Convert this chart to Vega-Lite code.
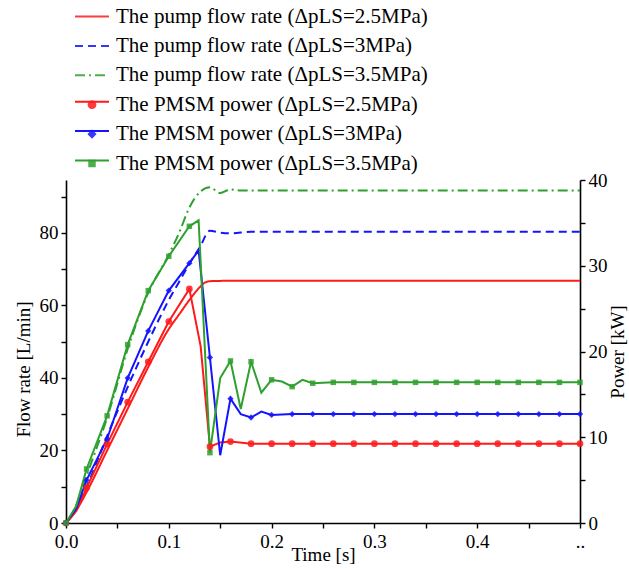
{
  "$schema": "https://vega.github.io/schema/vega-lite/v6.json",
  "width": 514,
  "height": 343,
  "autosize": {"type": "none"},
  "padding": {"left": 66, "top": 180, "right": 49, "bottom": 46},
  "config": {
    "view": {"stroke": null},
    "font": "'Liberation Serif', 'DejaVu Serif', serif",
    "axis": {"labelFont": "'Liberation Serif', 'DejaVu Serif', serif", "titleFont": "'Liberation Serif', 'DejaVu Serif', serif", "labelFontSize": 19, "titleFontSize": 19, "titleFontWeight": "normal", "labelColor": "#000", "titleColor": "#000", "domainColor": "#000", "tickColor": "#000", "domainWidth": 1.6, "tickWidth": 1.4, "tickSize": 5, "grid": false},
    "legend": {"orient": "none", "legendX": 8, "legendY": -174, "direction": "vertical", "labelFont": "'Liberation Serif', 'DejaVu Serif', serif", "labelFontSize": 21, "labelColor": "#000", "labelLimit": 600, "labelOffset": 6, "clipHeight": 21, "rowPadding": 7.4, "symbolStrokeWidth": 2}
  },
  "datasets": {
    "flow": [
      {"series": "The pump flow rate (ΔpLS=2.5MPa)", "t": 0, "q": 0},
      {"series": "The pump flow rate (ΔpLS=2.5MPa)", "t": 0.01, "q": 3.5},
      {"series": "The pump flow rate (ΔpLS=2.5MPa)", "t": 0.02, "q": 8.5},
      {"series": "The pump flow rate (ΔpLS=2.5MPa)", "t": 0.04, "q": 20},
      {"series": "The pump flow rate (ΔpLS=2.5MPa)", "t": 0.06, "q": 31.5},
      {"series": "The pump flow rate (ΔpLS=2.5MPa)", "t": 0.08, "q": 43},
      {"series": "The pump flow rate (ΔpLS=2.5MPa)", "t": 0.10, "q": 53.5},
      {"series": "The pump flow rate (ΔpLS=2.5MPa)", "t": 0.11, "q": 57.5},
      {"series": "The pump flow rate (ΔpLS=2.5MPa)", "t": 0.12, "q": 61.5},
      {"series": "The pump flow rate (ΔpLS=2.5MPa)", "t": 0.13, "q": 65},
      {"series": "The pump flow rate (ΔpLS=2.5MPa)", "t": 0.135, "q": 66.3},
      {"series": "The pump flow rate (ΔpLS=2.5MPa)", "t": 0.14, "q": 66.7},
      {"series": "The pump flow rate (ΔpLS=2.5MPa)", "t": 0.16, "q": 66.8},
      {"series": "The pump flow rate (ΔpLS=2.5MPa)", "t": 0.5, "q": 66.8},
      {"series": "The pump flow rate (ΔpLS=3MPa)", "t": 0, "q": 0},
      {"series": "The pump flow rate (ΔpLS=3MPa)", "t": 0.01, "q": 4},
      {"series": "The pump flow rate (ΔpLS=3MPa)", "t": 0.02, "q": 10},
      {"series": "The pump flow rate (ΔpLS=3MPa)", "t": 0.04, "q": 24},
      {"series": "The pump flow rate (ΔpLS=3MPa)", "t": 0.06, "q": 37.5},
      {"series": "The pump flow rate (ΔpLS=3MPa)", "t": 0.08, "q": 50},
      {"series": "The pump flow rate (ΔpLS=3MPa)", "t": 0.10, "q": 61.5},
      {"series": "The pump flow rate (ΔpLS=3MPa)", "t": 0.11, "q": 66.5},
      {"series": "The pump flow rate (ΔpLS=3MPa)", "t": 0.12, "q": 71.5},
      {"series": "The pump flow rate (ΔpLS=3MPa)", "t": 0.13, "q": 76},
      {"series": "The pump flow rate (ΔpLS=3MPa)", "t": 0.14, "q": 80.6},
      {"series": "The pump flow rate (ΔpLS=3MPa)", "t": 0.15, "q": 80.1},
      {"series": "The pump flow rate (ΔpLS=3MPa)", "t": 0.16, "q": 79.9},
      {"series": "The pump flow rate (ΔpLS=3MPa)", "t": 0.18, "q": 80.3},
      {"series": "The pump flow rate (ΔpLS=3MPa)", "t": 0.5, "q": 80.3},
      {"series": "The pump flow rate (ΔpLS=3.5MPa)", "t": 0, "q": 0},
      {"series": "The pump flow rate (ΔpLS=3.5MPa)", "t": 0.01, "q": 5},
      {"series": "The pump flow rate (ΔpLS=3.5MPa)", "t": 0.02, "q": 13},
      {"series": "The pump flow rate (ΔpLS=3.5MPa)", "t": 0.04, "q": 29},
      {"series": "The pump flow rate (ΔpLS=3.5MPa)", "t": 0.06, "q": 48},
      {"series": "The pump flow rate (ΔpLS=3.5MPa)", "t": 0.08, "q": 63.5},
      {"series": "The pump flow rate (ΔpLS=3.5MPa)", "t": 0.10, "q": 74},
      {"series": "The pump flow rate (ΔpLS=3.5MPa)", "t": 0.11, "q": 80},
      {"series": "The pump flow rate (ΔpLS=3.5MPa)", "t": 0.12, "q": 87},
      {"series": "The pump flow rate (ΔpLS=3.5MPa)", "t": 0.13, "q": 91.2},
      {"series": "The pump flow rate (ΔpLS=3.5MPa)", "t": 0.14, "q": 92.6},
      {"series": "The pump flow rate (ΔpLS=3.5MPa)", "t": 0.15, "q": 91},
      {"series": "The pump flow rate (ΔpLS=3.5MPa)", "t": 0.16, "q": 92},
      {"series": "The pump flow rate (ΔpLS=3.5MPa)", "t": 0.17, "q": 91.7},
      {"series": "The pump flow rate (ΔpLS=3.5MPa)", "t": 0.5, "q": 91.7}
    ],
    "power": [
      {"series": "The PMSM power (ΔpLS=2.5MPa)", "t": 0, "p": 0, "mk": 1},
      {"series": "The PMSM power (ΔpLS=2.5MPa)", "t": 0.01, "p": 1.4, "mk": 0},
      {"series": "The PMSM power (ΔpLS=2.5MPa)", "t": 0.02, "p": 4.1, "mk": 1},
      {"series": "The PMSM power (ΔpLS=2.5MPa)", "t": 0.04, "p": 9.2, "mk": 1},
      {"series": "The PMSM power (ΔpLS=2.5MPa)", "t": 0.06, "p": 14.1, "mk": 1},
      {"series": "The PMSM power (ΔpLS=2.5MPa)", "t": 0.08, "p": 18.8, "mk": 1},
      {"series": "The PMSM power (ΔpLS=2.5MPa)", "t": 0.10, "p": 23.5, "mk": 1},
      {"series": "The PMSM power (ΔpLS=2.5MPa)", "t": 0.12, "p": 27.3, "mk": 1},
      {"series": "The PMSM power (ΔpLS=2.5MPa)", "t": 0.131, "p": 20.6, "mk": 0},
      {"series": "The PMSM power (ΔpLS=2.5MPa)", "t": 0.14, "p": 8.9, "mk": 1},
      {"series": "The PMSM power (ΔpLS=2.5MPa)", "t": 0.15, "p": 9.4, "mk": 0},
      {"series": "The PMSM power (ΔpLS=2.5MPa)", "t": 0.16, "p": 9.5, "mk": 1},
      {"series": "The PMSM power (ΔpLS=2.5MPa)", "t": 0.18, "p": 9.25, "mk": 1},
      {"series": "The PMSM power (ΔpLS=2.5MPa)", "t": 0.20, "p": 9.25, "mk": 1},
      {"series": "The PMSM power (ΔpLS=2.5MPa)", "t": 0.22, "p": 9.25, "mk": 1},
      {"series": "The PMSM power (ΔpLS=2.5MPa)", "t": 0.24, "p": 9.25, "mk": 1},
      {"series": "The PMSM power (ΔpLS=2.5MPa)", "t": 0.26, "p": 9.25, "mk": 1},
      {"series": "The PMSM power (ΔpLS=2.5MPa)", "t": 0.28, "p": 9.25, "mk": 1},
      {"series": "The PMSM power (ΔpLS=2.5MPa)", "t": 0.30, "p": 9.25, "mk": 1},
      {"series": "The PMSM power (ΔpLS=2.5MPa)", "t": 0.32, "p": 9.25, "mk": 1},
      {"series": "The PMSM power (ΔpLS=2.5MPa)", "t": 0.34, "p": 9.25, "mk": 1},
      {"series": "The PMSM power (ΔpLS=2.5MPa)", "t": 0.36, "p": 9.25, "mk": 1},
      {"series": "The PMSM power (ΔpLS=2.5MPa)", "t": 0.38, "p": 9.25, "mk": 1},
      {"series": "The PMSM power (ΔpLS=2.5MPa)", "t": 0.40, "p": 9.25, "mk": 1},
      {"series": "The PMSM power (ΔpLS=2.5MPa)", "t": 0.42, "p": 9.25, "mk": 1},
      {"series": "The PMSM power (ΔpLS=2.5MPa)", "t": 0.44, "p": 9.25, "mk": 1},
      {"series": "The PMSM power (ΔpLS=2.5MPa)", "t": 0.46, "p": 9.25, "mk": 1},
      {"series": "The PMSM power (ΔpLS=2.5MPa)", "t": 0.48, "p": 9.25, "mk": 1},
      {"series": "The PMSM power (ΔpLS=2.5MPa)", "t": 0.50, "p": 9.25, "mk": 1},
      {"series": "The PMSM power (ΔpLS=3MPa)", "t": 0, "p": 0, "mk": 1},
      {"series": "The PMSM power (ΔpLS=3MPa)", "t": 0.01, "p": 1.7, "mk": 0},
      {"series": "The PMSM power (ΔpLS=3MPa)", "t": 0.02, "p": 5.0, "mk": 1},
      {"series": "The PMSM power (ΔpLS=3MPa)", "t": 0.04, "p": 9.8, "mk": 1},
      {"series": "The PMSM power (ΔpLS=3MPa)", "t": 0.06, "p": 16.9, "mk": 1},
      {"series": "The PMSM power (ΔpLS=3MPa)", "t": 0.08, "p": 22.4, "mk": 1},
      {"series": "The PMSM power (ΔpLS=3MPa)", "t": 0.10, "p": 27.1, "mk": 1},
      {"series": "The PMSM power (ΔpLS=3MPa)", "t": 0.12, "p": 30.3, "mk": 1},
      {"series": "The PMSM power (ΔpLS=3MPa)", "t": 0.129, "p": 31.8, "mk": 0},
      {"series": "The PMSM power (ΔpLS=3MPa)", "t": 0.14, "p": 19.3, "mk": 1},
      {"series": "The PMSM power (ΔpLS=3MPa)", "t": 0.15, "p": 7.9, "mk": 0},
      {"series": "The PMSM power (ΔpLS=3MPa)", "t": 0.16, "p": 14.5, "mk": 1},
      {"series": "The PMSM power (ΔpLS=3MPa)", "t": 0.17, "p": 12.7, "mk": 0},
      {"series": "The PMSM power (ΔpLS=3MPa)", "t": 0.18, "p": 12.3, "mk": 1},
      {"series": "The PMSM power (ΔpLS=3MPa)", "t": 0.19, "p": 13.0, "mk": 0},
      {"series": "The PMSM power (ΔpLS=3MPa)", "t": 0.20, "p": 12.6, "mk": 1},
      {"series": "The PMSM power (ΔpLS=3MPa)", "t": 0.22, "p": 12.7, "mk": 1},
      {"series": "The PMSM power (ΔpLS=3MPa)", "t": 0.24, "p": 12.7, "mk": 1},
      {"series": "The PMSM power (ΔpLS=3MPa)", "t": 0.26, "p": 12.7, "mk": 1},
      {"series": "The PMSM power (ΔpLS=3MPa)", "t": 0.28, "p": 12.7, "mk": 1},
      {"series": "The PMSM power (ΔpLS=3MPa)", "t": 0.30, "p": 12.7, "mk": 1},
      {"series": "The PMSM power (ΔpLS=3MPa)", "t": 0.32, "p": 12.7, "mk": 1},
      {"series": "The PMSM power (ΔpLS=3MPa)", "t": 0.34, "p": 12.7, "mk": 1},
      {"series": "The PMSM power (ΔpLS=3MPa)", "t": 0.36, "p": 12.7, "mk": 1},
      {"series": "The PMSM power (ΔpLS=3MPa)", "t": 0.38, "p": 12.7, "mk": 1},
      {"series": "The PMSM power (ΔpLS=3MPa)", "t": 0.40, "p": 12.7, "mk": 1},
      {"series": "The PMSM power (ΔpLS=3MPa)", "t": 0.42, "p": 12.7, "mk": 1},
      {"series": "The PMSM power (ΔpLS=3MPa)", "t": 0.44, "p": 12.7, "mk": 1},
      {"series": "The PMSM power (ΔpLS=3MPa)", "t": 0.46, "p": 12.7, "mk": 1},
      {"series": "The PMSM power (ΔpLS=3MPa)", "t": 0.48, "p": 12.7, "mk": 1},
      {"series": "The PMSM power (ΔpLS=3MPa)", "t": 0.50, "p": 12.7, "mk": 1},
      {"series": "The PMSM power (ΔpLS=3.5MPa)", "t": 0, "p": 0, "mk": 1},
      {"series": "The PMSM power (ΔpLS=3.5MPa)", "t": 0.01, "p": 2.0, "mk": 0},
      {"series": "The PMSM power (ΔpLS=3.5MPa)", "t": 0.02, "p": 6.3, "mk": 1},
      {"series": "The PMSM power (ΔpLS=3.5MPa)", "t": 0.04, "p": 12.5, "mk": 1},
      {"series": "The PMSM power (ΔpLS=3.5MPa)", "t": 0.06, "p": 20.8, "mk": 1},
      {"series": "The PMSM power (ΔpLS=3.5MPa)", "t": 0.08, "p": 27.1, "mk": 1},
      {"series": "The PMSM power (ΔpLS=3.5MPa)", "t": 0.10, "p": 31.1, "mk": 1},
      {"series": "The PMSM power (ΔpLS=3.5MPa)", "t": 0.12, "p": 34.6, "mk": 1},
      {"series": "The PMSM power (ΔpLS=3.5MPa)", "t": 0.129, "p": 35.3, "mk": 0},
      {"series": "The PMSM power (ΔpLS=3.5MPa)", "t": 0.14, "p": 8.2, "mk": 1},
      {"series": "The PMSM power (ΔpLS=3.5MPa)", "t": 0.15, "p": 16.9, "mk": 0},
      {"series": "The PMSM power (ΔpLS=3.5MPa)", "t": 0.16, "p": 18.9, "mk": 1},
      {"series": "The PMSM power (ΔpLS=3.5MPa)", "t": 0.17, "p": 13.3, "mk": 0},
      {"series": "The PMSM power (ΔpLS=3.5MPa)", "t": 0.18, "p": 18.8, "mk": 1},
      {"series": "The PMSM power (ΔpLS=3.5MPa)", "t": 0.19, "p": 15.2, "mk": 0},
      {"series": "The PMSM power (ΔpLS=3.5MPa)", "t": 0.20, "p": 16.7, "mk": 1},
      {"series": "The PMSM power (ΔpLS=3.5MPa)", "t": 0.21, "p": 16.5, "mk": 0},
      {"series": "The PMSM power (ΔpLS=3.5MPa)", "t": 0.22, "p": 15.9, "mk": 1},
      {"series": "The PMSM power (ΔpLS=3.5MPa)", "t": 0.23, "p": 16.7, "mk": 0},
      {"series": "The PMSM power (ΔpLS=3.5MPa)", "t": 0.24, "p": 16.3, "mk": 1},
      {"series": "The PMSM power (ΔpLS=3.5MPa)", "t": 0.26, "p": 16.4, "mk": 1},
      {"series": "The PMSM power (ΔpLS=3.5MPa)", "t": 0.28, "p": 16.4, "mk": 1},
      {"series": "The PMSM power (ΔpLS=3.5MPa)", "t": 0.30, "p": 16.4, "mk": 1},
      {"series": "The PMSM power (ΔpLS=3.5MPa)", "t": 0.32, "p": 16.4, "mk": 1},
      {"series": "The PMSM power (ΔpLS=3.5MPa)", "t": 0.34, "p": 16.4, "mk": 1},
      {"series": "The PMSM power (ΔpLS=3.5MPa)", "t": 0.36, "p": 16.4, "mk": 1},
      {"series": "The PMSM power (ΔpLS=3.5MPa)", "t": 0.38, "p": 16.4, "mk": 1},
      {"series": "The PMSM power (ΔpLS=3.5MPa)", "t": 0.40, "p": 16.4, "mk": 1},
      {"series": "The PMSM power (ΔpLS=3.5MPa)", "t": 0.42, "p": 16.4, "mk": 1},
      {"series": "The PMSM power (ΔpLS=3.5MPa)", "t": 0.44, "p": 16.4, "mk": 1},
      {"series": "The PMSM power (ΔpLS=3.5MPa)", "t": 0.46, "p": 16.4, "mk": 1},
      {"series": "The PMSM power (ΔpLS=3.5MPa)", "t": 0.48, "p": 16.4, "mk": 1},
      {"series": "The PMSM power (ΔpLS=3.5MPa)", "t": 0.50, "p": 16.4, "mk": 1}
    ]
  },
  "encoding": {
    "x": {
      "field": "t", "type": "quantitative", "title": "Time [s]",
      "scale": {"domain": [0, 0.5], "nice": false, "zero": false},
      "axis": {"values": [0, 0.05, 0.1, 0.15, 0.2, 0.25, 0.3, 0.35, 0.4, 0.45, 0.5], "labelExpr": "datum.value > 0.49 ? '..' : (round(datum.value * 100) % 10 == 0 ? format(datum.value, '.1f') : '')", "labelPadding": 4, "titlePadding": -6, "labelFlush": false, "labelOverlap": false}
    }
  },
  "layer": [
    {
      "data": {"name": "flow"},
      "mark": {"type": "line", "strokeWidth": 2, "interpolate": "monotone"},
      "encoding": {
        "y": {
          "field": "q", "type": "quantitative", "title": "Flow rate [L/min]",
          "scale": {"domain": [0, 94.6], "nice": false},
          "axis": {"orient": "left", "values": [0, 10, 20, 30, 40, 50, 60, 70, 80, 90], "labelExpr": "datum.value % 20 == 0 ? datum.label : ''", "titlePadding": 6, "titleY": 189, "labelPadding": 3}
        },
        "color": {"field": "series", "type": "nominal", "legend": {"title": null},
          "scale": {"domain": ["The pump flow rate (ΔpLS=2.5MPa)", "The pump flow rate (ΔpLS=3MPa)", "The pump flow rate (ΔpLS=3.5MPa)", "The PMSM power (ΔpLS=2.5MPa)", "The PMSM power (ΔpLS=3MPa)", "The PMSM power (ΔpLS=3.5MPa)"],
            "range": ["#FF1A1A", "#1414FF", "#2EA02E", "#FF1A1A", "#1414FF", "#2EA02E"]}},
        "strokeDash": {"field": "series", "type": "nominal", "legend": {"title": null},
          "scale": {"domain": ["The pump flow rate (ΔpLS=2.5MPa)", "The pump flow rate (ΔpLS=3MPa)", "The pump flow rate (ΔpLS=3.5MPa)", "The PMSM power (ΔpLS=2.5MPa)", "The PMSM power (ΔpLS=3MPa)", "The PMSM power (ΔpLS=3.5MPa)"],
            "range": [[1, 0], [8, 5], [10, 4, 2, 4], [1, 0], [1, 0], [1, 0]]}}
      }
    },
    {
      "data": {"name": "power"},
      "encoding": {
        "y": {
          "field": "p", "type": "quantitative", "title": "Power [kW]",
          "scale": {"domain": [0, 40], "nice": false},
          "axis": {"orient": "right", "values": [0, 5, 10, 15, 20, 25, 30, 35, 40], "labelExpr": "datum.value % 10 == 0 ? datum.label : ''", "titleAngle": 270, "titlePadding": 20, "labelPadding": 3}
        }
      },
      "layer": [
        {
          "mark": {"type": "line", "strokeWidth": 2},
          "encoding": {
            "stroke": {"field": "series", "type": "nominal",
              "scale": {"domain": ["The PMSM power (ΔpLS=2.5MPa)", "The PMSM power (ΔpLS=3MPa)", "The PMSM power (ΔpLS=3.5MPa)"], "range": ["#FF1A1A", "#1414FF", "#2EA02E"]},
              "legend": {"title": null, "labelExpr": "''", "symbolType": "stroke", "symbolSize": 1156, "symbolStrokeWidth": 2, "legendX": 8, "legendY": -88.8}}
          }
        },
        {
          "transform": [{"filter": "datum.mk == 1"}],
          "mark": {"type": "point", "filled": true, "opacity": 0.85},
          "encoding": {
            "color": {"field": "series", "type": "nominal", "legend": {"title": null},
              "scale": {"domain": ["The pump flow rate (ΔpLS=2.5MPa)", "The pump flow rate (ΔpLS=3MPa)", "The pump flow rate (ΔpLS=3.5MPa)", "The PMSM power (ΔpLS=2.5MPa)", "The PMSM power (ΔpLS=3MPa)", "The PMSM power (ΔpLS=3.5MPa)"],
                "range": ["#FF1A1A", "#1414FF", "#2EA02E", "#FF1A1A", "#1414FF", "#2EA02E"]}},
            "shape": {"field": "series", "type": "nominal", "legend": {"title": null},
              "scale": {"domain": ["The pump flow rate (ΔpLS=2.5MPa)", "The pump flow rate (ΔpLS=3MPa)", "The pump flow rate (ΔpLS=3.5MPa)", "The PMSM power (ΔpLS=2.5MPa)", "The PMSM power (ΔpLS=3MPa)", "The PMSM power (ΔpLS=3.5MPa)"],
                "range": ["stroke", "stroke", "stroke", "circle", "diamond", "square"]}},
            "size": {"field": "series", "type": "nominal", "legend": {"title": null},
              "scale": {"type": "ordinal", "domain": ["The pump flow rate (ΔpLS=2.5MPa)", "The pump flow rate (ΔpLS=3MPa)", "The pump flow rate (ΔpLS=3.5MPa)", "The PMSM power (ΔpLS=2.5MPa)", "The PMSM power (ΔpLS=3MPa)", "The PMSM power (ΔpLS=3.5MPa)"],
                "range": [1156, 1156, 1156, 45, 40, 30]}}
          }
        }
      ]
    }
  ],
  "resolve": {"scale": {"y": "independent"}}
}
